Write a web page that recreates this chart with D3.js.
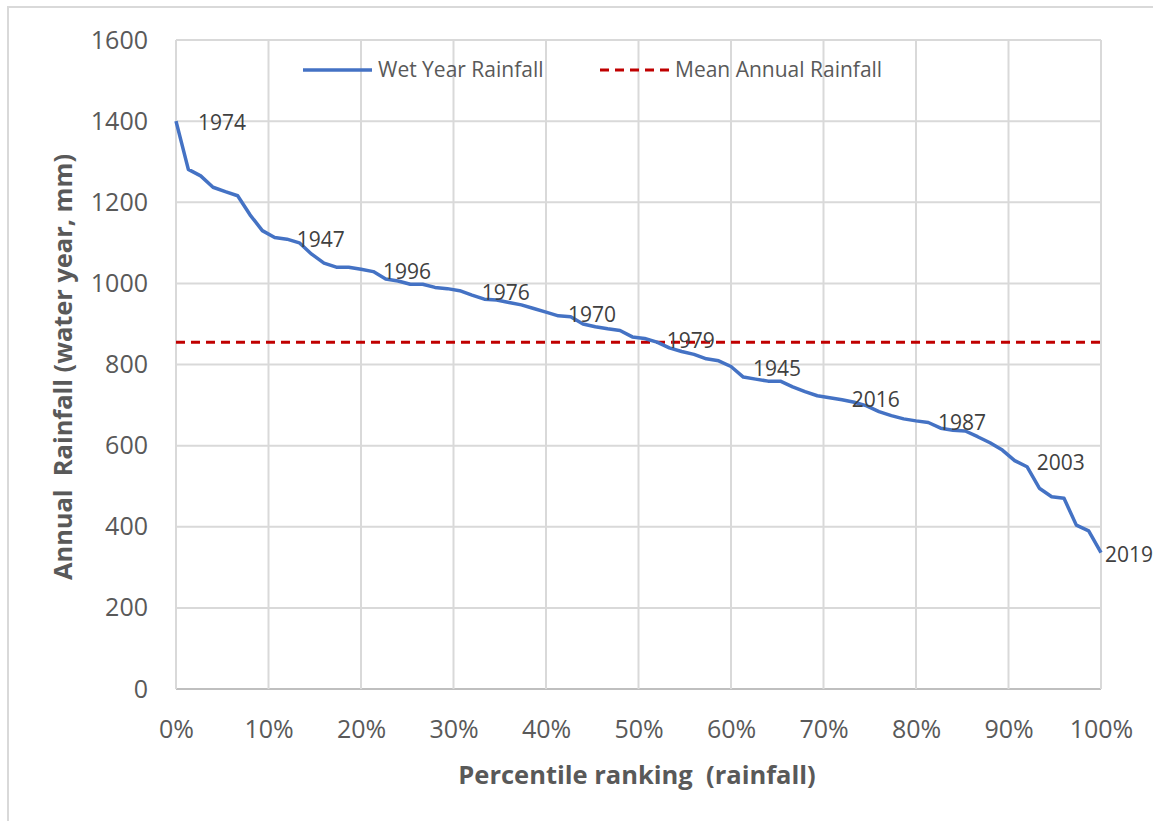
<!DOCTYPE html>
<html>
<head>
<meta charset="utf-8">
<script src="https://cdn.jsdelivr.net/npm/d3@7"></script>
<style>
  body { margin: 0; background: #fff; }
  text { font-family: "Open Sans", "Liberation Sans", sans-serif; }
</style>
</head>
<body>
<svg width="1153" height="821"></svg>
<script>
// annual rainfall (mm), ranked wettest -> driest, 76 water years
var rainfall = [1400, 1281, 1265, 1237, 1226, 1216, 1169, 1130, 1113, 1109,
                1100, 1072, 1050, 1040, 1040, 1035, 1029, 1011, 1006, 998,
                998, 990, 987, 982, 971, 961, 959, 953, 947, 938,
                929, 920, 918, 900, 893, 888, 884, 868, 864, 855,
                841, 832, 825, 814, 809, 795, 769, 764, 759, 759,
                745, 733, 723, 718, 713, 707, 698, 684, 674, 666,
                661, 657, 643, 638, 636, 622, 607, 589, 563, 548,
                495, 474, 470, 404, 390, 336];
var meanRainfall = 855;

// labelled years and the rank they sit at
var labelYears = ["1974", "1947", "1996", "1976", "1970", "1979", "1945", "2016", "1987", "2003", "2019"];
var labelRanks = [0, 8, 15, 23, 30, 38, 45, 53, 60, 68, 75];

var yTicks = [0, 200, 400, 600, 800, 1000, 1200, 1400, 1600];
var xTicks = [0, 0.1, 0.2, 0.3, 0.4, 0.5, 0.6, 0.7, 0.8, 0.9, 1];
var seriesNames = ["Wet Year Rainfall", "Mean Annual Rainfall"];

var svg = d3.select("svg");
var margin = {top: 40, right: 52, bottom: 132, left: 176};
var width = 1153 - margin.left - margin.right;
var height = 821 - margin.top - margin.bottom;

// outer chart border
svg.append("rect")
    .attr("x", 8).attr("y", 7)
    .attr("width", 1160).attr("height", 830)
    .attr("fill", "none")
    .attr("stroke", "#d9d9d9")
    .attr("stroke-width", 2);

var g = svg.append("g").attr("transform", "translate(" + margin.left + "," + margin.top + ")");

var x = d3.scaleLinear().domain([0, 1]).range([0, width]);
var y = d3.scaleLinear().domain([0, 1600]).range([height, 0]);

// gridlines
g.append("g")
    .selectAll("line")
    .data(yTicks)
    .enter().append("line")
    .attr("x1", 0).attr("x2", width)
    .attr("y1", function(d) { return y(d); })
    .attr("y2", function(d) { return y(d); })
    .attr("stroke", function(d) { return d === 0 ? "#bfbfbf" : "#d9d9d9"; })
    .attr("stroke-width", 2);

g.append("g")
    .selectAll("line")
    .data(xTicks)
    .enter().append("line")
    .attr("x1", function(d) { return x(d); })
    .attr("x2", function(d) { return x(d); })
    .attr("y1", 0).attr("y2", height)
    .attr("stroke", "#d9d9d9")
    .attr("stroke-width", 2);

// axes (labels only)
var yAxis = g.append("g")
    .call(d3.axisLeft(y).tickValues(yTicks).tickSize(0).tickPadding(28).tickFormat(d3.format("d")));
yAxis.select(".domain").remove();
yAxis.selectAll("text").attr("font-size", 25).attr("fill", "#595959");

var xAxis = g.append("g")
    .attr("transform", "translate(0," + height + ")")
    .call(d3.axisBottom(x).tickValues(xTicks).tickSize(0).tickPadding(31).tickFormat(d3.format(".0%")));
xAxis.select(".domain").remove();
xAxis.selectAll("text").attr("font-size", 25).attr("fill", "#595959");

// mean line
g.append("line")
    .attr("x1", 0).attr("x2", width)
    .attr("y1", y(meanRainfall)).attr("y2", y(meanRainfall))
    .attr("stroke", "#c00000")
    .attr("stroke-width", 3)
    .attr("stroke-dasharray", "9,6");

// rainfall line
var n = rainfall.length;
var line = d3.line()
    .x(function(d, i) { return x(i / (n - 1)); })
    .y(function(d) { return y(d); });

g.append("path")
    .datum(rainfall)
    .attr("d", line)
    .attr("fill", "none")
    .attr("stroke", "#4472c4")
    .attr("stroke-width", 3.5)
    .attr("stroke-linejoin", "round");

// data labels (last one pulled in so it stays on the chart)
g.append("g")
    .selectAll("text")
    .data(labelYears)
    .enter().append("text")
    .attr("x", function(d, i) {
        var px = x(labelRanks[i] / (n - 1)) + 22;
        return Math.min(px, width + 4);
    })
    .attr("y", function(d, i) { return y(rainfall[labelRanks[i]]) + 2; })
    .attr("dy", "0.35em")
    .attr("font-size", 21)
    .attr("fill", "#404040")
    .text(function(d) { return d; });

// legend
var legend = svg.append("g");
legend.append("line")
    .attr("x1", 303).attr("x2", 372).attr("y1", 70).attr("y2", 70)
    .attr("stroke", "#4472c4").attr("stroke-width", 3.5);
legend.append("text")
    .attr("x", 378).attr("y", 70).attr("dy", "0.35em")
    .attr("font-size", 21).attr("fill", "#595959")
    .text(seriesNames[0]);
legend.append("line")
    .attr("x1", 600).attr("x2", 670).attr("y1", 70).attr("y2", 70)
    .attr("stroke", "#c00000").attr("stroke-width", 3)
    .attr("stroke-dasharray", "9,6");
legend.append("text")
    .attr("x", 675).attr("y", 70).attr("dy", "0.35em")
    .attr("font-size", 21).attr("fill", "#595959")
    .text(seriesNames[1]);

// axis titles
svg.append("text")
    .attr("transform", "translate(63," + 367 + ") rotate(-90)")
    .attr("text-anchor", "middle")
    .attr("dy", "0.35em")
    .attr("font-size", 25.4)
    .attr("font-weight", "bold")
    .attr("fill", "#595959")
    .style("white-space", "pre")
    .text("Annual  Rainfall (water year, mm)");

svg.append("text")
    .attr("x", 637).attr("y", 775)
    .attr("text-anchor", "middle")
    .attr("dy", "0.35em")
    .attr("font-size", 25.5)
    .attr("font-weight", "bold")
    .attr("fill", "#595959")
    .style("white-space", "pre")
    .text("Percentile ranking  (rainfall)");
</script>
</body>
</html>
